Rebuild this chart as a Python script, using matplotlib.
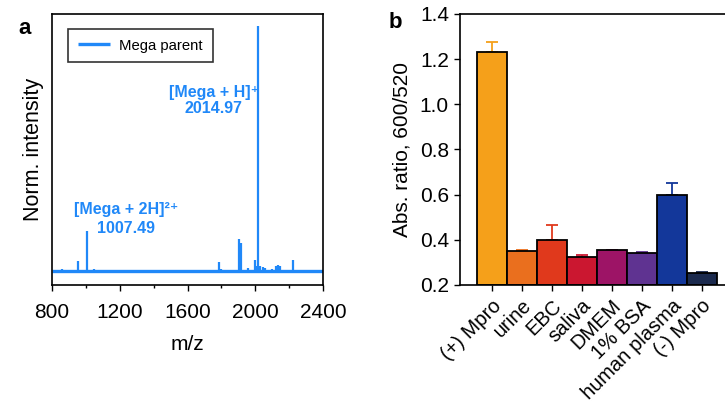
import matplotlib
matplotlib.use("Agg")
import matplotlib.pyplot as plt
from matplotlib.ticker import MultipleLocator

plt.rcParams['font.family'] = ['Liberation Sans', 'DejaVu Sans']

# ---- Panel a data: MS spectrum peaks (m/z, normalized intensity) ----
peak_mz = [860, 953, 1007.49, 1050, 1150, 1786, 1800, 1903, 1915, 1960, 1998, 2005,
           2014.97, 2030, 2045, 2060, 2100, 2120, 2135, 2145, 2223]
peak_int = [0.008, 0.04, 0.165, 0.008, 0.006, 0.036, 0.01, 0.13, 0.115, 0.012, 0.045, 0.02,
            1.0, 0.02, 0.015, 0.012, 0.01, 0.022, 0.026, 0.02, 0.046]
mz_range = [800, 2400]

# ---- Panel b data ----
categories = ['(+) Mpro', 'urine', 'EBC', 'saliva', 'DMEM', '1% BSA', 'human plasma', '(-) Mpro']
values = [1.23, 0.35, 0.40, 0.325, 0.355, 0.34, 0.60, 0.255]
errors = [0.045, 0.005, 0.065, 0.008, 0.002, 0.005, 0.053, 0.004]
colors = ['#F5A01A', '#EA6F1E', '#E0391C', '#CB1730', '#9D1466', '#5F3391', '#13379A', '#1B2A4E']

blue = '#2088F8'

fig = plt.figure(figsize=(7.25, 4.04), dpi=100)

# ---------------- Panel a ----------------
axa = fig.add_axes([52/725, 1-285/404, (323-52)/725, (285-14)/404])
axa.plot(mz_range, [0, 0], color=blue, lw=2.4, label='Mega parent', solid_capstyle='butt')
axa.vlines(peak_mz, 0, peak_int, color=blue, lw=1.6)
axa.set_xlim(mz_range)
axa.set_ylim(-0.057, 1.05)
axa.set_yticks([])
axa.xaxis.set_major_locator(MultipleLocator(400))
axa.xaxis.set_minor_locator(MultipleLocator(200))
axa.tick_params(axis='x', which='major', direction='out', length=4, width=1, labelsize=15, pad=9)
axa.tick_params(axis='x', which='minor', direction='out', length=2.5, width=1)
for s in axa.spines.values():
    s.set_linewidth(1.2)
axa.set_xlabel('m/z', fontsize=15, labelpad=9)
axa.set_ylabel('Norm. intensity', fontsize=15.5, labelpad=6)
leg = axa.legend(loc='upper left', bbox_to_anchor=(0.059, 0.945), fontsize=10.7, frameon=True,
                 fancybox=False, handlelength=2.2, borderpad=0.65, handletextpad=0.6,
                 borderaxespad=0)
leg.get_frame().set_edgecolor('black')
leg.get_frame().set_linewidth(1.2)

axa.text(1755, 0.73, '[Mega + H]⁺', color=blue, fontsize=11.5,
         fontweight='bold', ha='center', va='center')
axa.text(1755, 0.665, '2014.97', color=blue, fontsize=11.5,
         fontweight='bold', ha='center', va='center')
axa.text(1240, 0.253, '[Mega + 2H]²⁺', color=blue, fontsize=11.5,
         fontweight='bold', ha='center', va='center')
axa.text(1235, 0.175, '1007.49', color=blue, fontsize=11.5,
         fontweight='bold', ha='center', va='center')

fig.text(25/725, 1-28/404, 'a', fontsize=16, fontweight='bold', ha='center', va='center')

# ---------------- Panel b ----------------
axb = fig.add_axes([460/725, 1-285/404, (725-460)/725, (285-14)/404])
x = list(range(len(categories)))
axb.bar(x, [v - 0.2 for v in values], bottom=0.2, width=1.0, color=colors,
        edgecolor='black', linewidth=1.3, zorder=2)
for xi, v, e, c in zip(x, values, errors, colors):
    axb.errorbar([xi], [v], yerr=[[0], [e]], fmt='none', ecolor=c, elinewidth=1.3,
                 capsize=4, capthick=1.3, zorder=1)
axb.set_xlim(-1.056, 7.78)
axb.set_ylim(0.2, 1.4)
axb.yaxis.set_major_locator(MultipleLocator(0.2))
axb.set_xticks(x)
axb.set_xticklabels(categories, rotation=45, ha='right', rotation_mode='anchor', fontsize=14.5)
axb.tick_params(axis='y', direction='out', length=4, width=1, labelsize=15, pad=4)
axb.tick_params(axis='x', direction='out', length=4, width=1, pad=4)
axb.spines['right'].set_visible(False)
for s in axb.spines.values():
    s.set_linewidth(1.2)
axb.set_ylabel('Abs. ratio, 600/520', fontsize=15, labelpad=6)

fig.text(395/725, 1-22/404, 'b', fontsize=16, fontweight='bold', ha='center', va='center')

fig.savefig('out.png', dpi=100)
